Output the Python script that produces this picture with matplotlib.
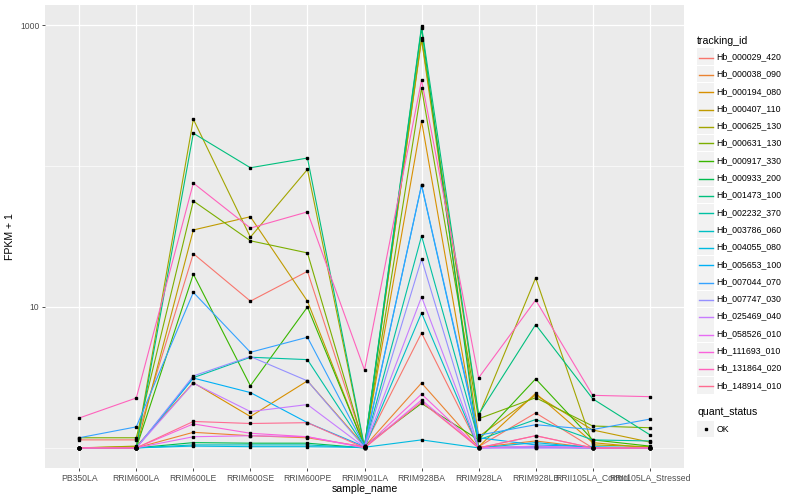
import matplotlib
matplotlib.use("Agg")
import matplotlib.pyplot as plt
from matplotlib.lines import Line2D
from matplotlib.patches import Rectangle

plt.rcParams['font.family'] = ['Liberation Sans', 'DejaVu Sans']

samples = ["PB350LA", "RRIM600LA", "RRIM600LE", "RRIM600SE", "RRIM600PE",
           "RRIM901LA", "RRIM928BA", "RRIM928LA", "RRIM928LB",
           "RRII105LA_Control", "RRII105LA_Stressed"]

tracking_ids = ["Hb_000029_420", "Hb_000038_090", "Hb_000194_080", "Hb_000407_110",
                "Hb_000625_130", "Hb_000631_130", "Hb_000917_330", "Hb_000933_200",
                "Hb_001473_100", "Hb_002232_370", "Hb_003786_060", "Hb_004055_080",
                "Hb_005653_100", "Hb_007044_070", "Hb_007747_030", "Hb_025469_040",
                "Hb_058526_010", "Hb_111693_010", "Hb_131864_020", "Hb_148914_010"]

# ggplot hue palette, 20 levels
colors = ["#F8766D", "#EA8331", "#D89000", "#C09B00", "#A3A500", "#7CAE00",
          "#39B600", "#00BB4E", "#00BF7D", "#00C1A3", "#00BFC4", "#00BAE0",
          "#00B0F6", "#35A2FF", "#9590FF", "#C77CFF", "#E76BF3", "#FA62DB",
          "#FF62BC", "#FF6C91"]

# FPKM + 1 per sample (same order as samples)
hb_000029_420 = [1.14, 1.14, 23.9, 11.0, 17.9, 1.03, 6.54, 1.02, 1.77, 1.00, 1.00]
hb_000038_090 = [1.00, 1.00, 1.29, 1.22, 1.18, 1.02, 2.89, 1.01, 1.12, 1.00, 1.00]
hb_000194_080 = [1.00, 1.02, 2.90, 1.67, 2.99, 1.03, 209, 1.02, 2.44, 1.09, 1.00]
hb_000407_110 = [1.00, 1.00, 35.2, 43.7, 11.0, 1.02, 790, 1.20, 2.37, 1.34, 1.10]
hb_000625_130 = [1.00, 1.03, 215, 31.3, 94.7, 1.00, 812, 1.68, 16.1, 1.05, 1.02]
hb_000631_130 = [1.18, 1.18, 56.5, 29.5, 24.2, 1.02, 358, 1.61, 2.27, 1.43, 1.39]
hb_000917_330 = [1.00, 1.00, 17.1, 2.76, 10.0, 1.03, 2.07, 1.14, 3.09, 1.14, 1.03]
hb_000933_200 = [1.00, 1.00, 1.09, 1.08, 1.08, 1.00, 950, 1.01, 1.01, 1.00, 1.00]
hb_001473_100 = [1.00, 1.00, 171, 97.3, 114, 1.02, 984, 1.73, 7.50, 2.23, 1.24]
hb_002232_370 = [1.00, 1.00, 3.15, 4.40, 4.23, 1.02, 31.9, 1.14, 1.59, 1.14, 1.12]
hb_003786_060 = [1.00, 1.00, 1.05, 1.05, 1.05, 1.00, 9.07, 1.00, 1.02, 1.00, 1.00]
hb_004055_080 = [1.00, 1.00, 1.03, 1.02, 1.02, 1.01, 1.14, 1.00, 1.09, 1.00, 1.00]
hb_005653_100 = [1.00, 1.00, 3.13, 2.47, 1.51, 1.02, 73.0, 1.18, 1.05, 1.02, 1.00]
hb_007044_070 = [1.18, 1.41, 12.7, 4.77, 6.10, 1.03, 73.7, 1.23, 1.46, 1.35, 1.60]
hb_007747_030 = [1.00, 1.00, 3.24, 4.45, 2.99, 1.01, 21.9, 1.00, 1.00, 1.00, 1.00]
hb_025469_040 = [1.00, 1.00, 2.88, 1.81, 2.03, 1.01, 11.8, 1.00, 1.00, 1.00, 1.00]
hb_058526_010 = [1.00, 1.00, 1.20, 1.22, 1.20, 1.00, 2.19, 1.00, 1.03, 1.00, 1.00]
hb_111693_010 = [1.00, 1.00, 1.48, 1.27, 1.20, 1.01, 2.41, 1.00, 1.22, 1.00, 1.00]
hb_131864_020 = [1.63, 2.26, 75.7, 36.3, 47.3, 3.57, 407, 3.14, 11.2, 2.36, 2.31]
hb_148914_010 = [1.00, 1.00, 1.54, 1.49, 1.51, 1.00, 2.12, 1.00, 1.22, 1.00, 1.00]

series = [hb_000029_420, hb_000038_090, hb_000194_080, hb_000407_110,
          hb_000625_130, hb_000631_130, hb_000917_330, hb_000933_200,
          hb_001473_100, hb_002232_370, hb_003786_060, hb_004055_080,
          hb_005653_100, hb_007044_070, hb_007747_030, hb_025469_040,
          hb_058526_010, hb_111693_010, hb_131864_020, hb_148914_010]

W, H = 800, 500
fig = plt.figure(figsize=(8, 5), dpi=100)
ax = fig.add_axes([45 / W, 1 - 468 / H, (684 - 45) / W, (468 - 5) / H])
ax.set_facecolor("#EBEBEB")

x = list(range(len(samples)))
for vals, col in zip(series, colors):
    ax.plot(x, vals, color=col, lw=0.8, zorder=3)
for vals in series:
    ax.plot(x, vals, ls="none", marker="s", ms=2.1, color="black", zorder=4)

ax.set_yscale("log")
ax.set_ylim(0.72, 1390)
ax.set_xlim(-0.6, 10.6)

ax.set_xticks(x)
ax.set_xticklabels(samples)
ax.set_yticks([10, 1000])
ax.set_yticklabels(["10", "1000"])
ax.set_yticks([1, 100], minor=True)
ax.yaxis.set_minor_formatter(plt.NullFormatter())
ax.grid(which="major", color="white", lw=0.9, zorder=1)
ax.grid(which="minor", axis="y", color="white", lw=0.45, zorder=1)
ax.tick_params(which="major", length=2.5, width=0.6, color="#333333",
               labelsize=6.2, labelcolor="#4D4D4D", pad=1.5)
ax.tick_params(which="minor", length=0)
for s in ax.spines.values():
    s.set_visible(False)

ax.set_xlabel("sample_name", fontsize=7.6, labelpad=1)
ax.set_ylabel("FPKM + 1", fontsize=7.6, labelpad=4)

# legends drawn in figure pixel coordinates
def fx(px):
    return px / W

def fy(py):
    return 1 - py / H

fig.text(fx(697), fy(40.5), "tracking_id", fontsize=7.6, va="center", ha="left")
step = 17.3
for i, (name, col) in enumerate(zip(tracking_ids, colors)):
    yc = 56.7 + i * step
    fig.patches.append(Rectangle((fx(697), fy(yc + 8.3)), 17 / W, 16.6 / H,
                                 transform=fig.transFigure, facecolor="#F2F2F2",
                                 edgecolor="none", zorder=1))
    fig.lines.append(Line2D([fx(698.5), fx(712.5)], [fy(round(yc) + 0.5)] * 2,
                            transform=fig.transFigure, color=col, lw=1.0,
                            zorder=2))
    fig.text(fx(716.5), fy(yc), name, fontsize=6.3, va="center", ha="left")

fig.text(fx(697), fy(412), "quant_status", fontsize=7.6, va="center", ha="left")
fig.patches.append(Rectangle((fx(697), fy(429 + 8.3)), 17 / W, 16.6 / H,
                             transform=fig.transFigure, facecolor="#F2F2F2",
                             edgecolor="none", zorder=1))
fig.lines.append(Line2D([fx(705.5)], [fy(429)], transform=fig.transFigure,
                        ls="none", marker="s", ms=2.1, color="black", zorder=2))
fig.text(fx(716.5), fy(429), "OK", fontsize=6.3, va="center", ha="left")

fig.savefig("out.png", dpi=100)
